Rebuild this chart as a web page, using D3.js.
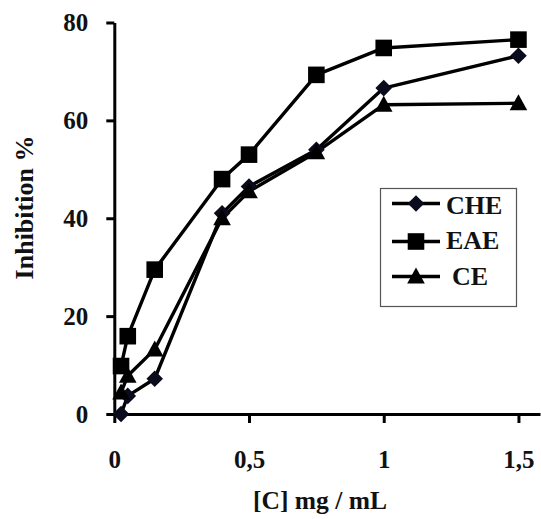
<!DOCTYPE html>
<html>
<head>
<meta charset="utf-8">
<script src="https://cdn.jsdelivr.net/npm/d3@7"></script>
<style>
  html, body { margin: 0; padding: 0; background: #fff; }
  svg { display: block; }
  text { font-family: "Liberation Serif", "Times New Roman", serif; font-weight: bold; fill: #111; }
</style>
</head>
<body>
<svg id="chart" width="541" height="519"></svg>
<script>
// Concentrations (mg/mL) and inhibition (%) for each extract
const concentrations = [0.025, 0.05, 0.15, 0.4, 0.5, 0.75, 1, 1.5];
const cheValues = [0, 3.7, 7.2, 41, 46.5, 54, 66.6, 73.2];
const eaeValues = [9.8, 15.9, 29.5, 48, 53, 69.3, 74.8, 76.5];
const ceValues  = [4.4, 7.8, 13.2, 40, 45.5, 53.5, 63.2, 63.5];

const seriesNames = ["CHE", "EAE", "CE"];
const seriesShapes = ["diamond", "square", "triangle"];

const xTicks = [0, 0.5, 1, 1.5];
const xTickLabels = ["0", "0,5", "1", "1,5"];
const yTicks = [0, 20, 40, 60, 80];

const xTitle = "[C] mg / mL";
const yTitle = "Inhibition %";

const series = [
  { name: seriesNames[0], shape: seriesShapes[0], values: cheValues },
  { name: seriesNames[1], shape: seriesShapes[1], values: eaeValues },
  { name: seriesNames[2], shape: seriesShapes[2], values: ceValues }
];

const svg = d3.select("#chart");

const x = d3.scaleLinear().domain([0, 1.58]).range([114.3, 540]);
const y = d3.scaleLinear().domain([0, 80]).range([414, 22.5]);

// Marker path builders centred on the origin
function markerPath(shape) {
  if (shape === "square") {
    const h = 8.3;
    return `M${-h},${-h}H${h}V${h}H${-h}Z`;
  }
  if (shape === "diamond") {
    const h = 8.3;
    return `M0,${-h}L${h},0L0,${h}L${-h},0Z`;
  }
  // triangle
  const w = 8.8, top = -9, bot = 7;
  return `M0,${top}L${w},${bot}L${-w},${bot}Z`;
}

// Axes
const yAxis = d3.axisLeft(y).tickValues(yTicks).tickSize(8).tickPadding(18).tickSizeOuter(0);
const xAxis = d3.axisBottom(x).tickValues(xTicks)
  .tickFormat((d, i) => xTickLabels[i]).tickSize(9).tickPadding(27).tickSizeOuter(0);

const gy = svg.append("g").attr("transform", `translate(${x(0)},0)`).call(yAxis);
const gx = svg.append("g").attr("transform", `translate(0,${y(0)})`).call(xAxis);

[gx, gy].forEach(g => {
  g.select(".domain").attr("stroke", "#000").attr("stroke-width", 3);
  g.selectAll(".tick line").attr("stroke", "#000").attr("stroke-width", 3);
  g.selectAll(".tick text")
    .attr("fill", "#111")
    .style("font-family", '"Liberation Serif", "Times New Roman", serif')
    .style("font-weight", "bold")
    .style("font-size", "25px");
});

// Axis titles
svg.append("text")
  .attr("x", 320).attr("y", 509)
  .attr("text-anchor", "middle")
  .style("font-size", "25.5px")
  .text(xTitle);

svg.append("text")
  .attr("transform", "translate(33,207.5) rotate(-90)")
  .attr("text-anchor", "middle")
  .style("font-size", "26px")
  .text(yTitle);

// Series lines and markers
const line = d3.line()
  .x((d, i) => x(concentrations[i]))
  .y(d => y(d));

const plot = svg.append("g");
series.forEach(s => {
  plot.append("path")
    .datum(s.values)
    .attr("fill", "none")
    .attr("stroke", "#000")
    .attr("stroke-width", 3.4)
    .attr("stroke-linejoin", "round")
    .attr("d", line);
});
series.forEach(s => {
  plot.selectAll(null)
    .data(s.values)
    .enter()
    .append("path")
    .attr("transform", (d, i) => `translate(${x(concentrations[i])},${y(d)})`)
    .attr("d", markerPath(s.shape))
    .attr("fill", s.shape === "diamond" ? "#0b0b1e" : "#000");
});

// Legend
const legend = svg.append("g");
legend.append("rect")
  .attr("x", 380.5).attr("y", 188.5)
  .attr("width", 136).attr("height", 118)
  .attr("fill", "#fff")
  .attr("stroke", "#555")
  .attr("stroke-width", 1.2);

const legendRowsY = [203.5, 241.5, 276.5];
const legendTextY = [213.5, 248.5, 285];
series.forEach((s, i) => {
  const cy = legendRowsY[i];
  legend.append("line")
    .attr("x1", 392).attr("x2", 440)
    .attr("y1", cy).attr("y2", cy)
    .attr("stroke", "#000").attr("stroke-width", 3.4);
  legend.append("path")
    .attr("transform", `translate(416,${cy})`)
    .attr("d", markerPath(s.shape))
    .attr("fill", s.shape === "diamond" ? "#0b0b1e" : "#000");
  legend.append("text")
    .attr("x", s.name === "CE" ? 452 : 446)
    .attr("y", legendTextY[i])
    .style("font-size", "26px")
    .text(s.name);
});
</script>
</body>
</html>
